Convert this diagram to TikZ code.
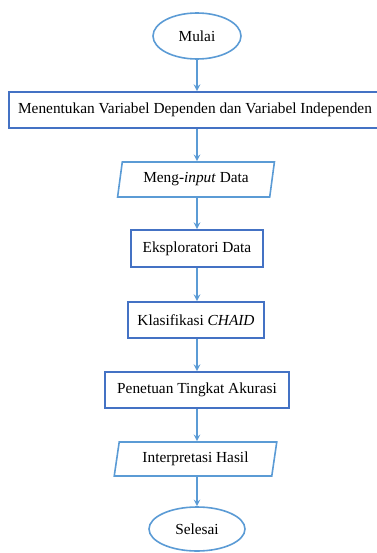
\documentclass[tikz,border=0pt]{standalone}
\usepackage{fontspec}
\setmainfont{Liberation Serif}
\usetikzlibrary{shapes.geometric}
\definecolor{garisbiru}{HTML}{5B9BD5}
\definecolor{kotakbiru}{HTML}{4472C4}
\tikzset{
    mulaiselesai/.style={draw=garisbiru, line width=1.2pt, ellipse, inner sep=0pt},
    proses/.style={draw=kotakbiru, line width=1.4pt, rectangle, inner sep=0pt},
    masukan/.style={draw=garisbiru, line width=1.2pt, trapezium, trapezium left angle=76,
        trapezium right angle=104, trapezium stretches=true, inner sep=0pt},
    panah/.style={->, draw=garisbiru, line width=1.2pt}
}
\begin{document}
\begin{tikzpicture}[>=stealth, x=0.75pt, y=-0.75pt, font=\fontsize{11.5}{13}\selectfont]
    \useasboundingbox (0,0) rectangle (377,553);
    \clip (0,0) rectangle (377,553);

    % Draw the start and end ellipses
    \node[mulaiselesai, minimum width=66pt, minimum height=34.5pt] (mulai) at (197,36) {Mulai};
    \node[mulaiselesai, minimum width=72pt, minimum height=33pt] (selesai) at (197,529) {Selesai};

    % Draw the process boxes
    \node[proses, minimum width=279pt, minimum height=27pt] (variabel) at (195,110) {Menentukan Variabel Dependen dan Variabel Independen};
    \node[masukan, minimum width=118.5pt, minimum height=26.25pt] (input) at (196,179.5) {Meng-\textit{input} Data};
    \node[proses, minimum width=99pt, minimum height=27.75pt] (eksplorasi) at (197,248.5) {Eksploratori Data};
    \node[proses, minimum width=102pt, minimum height=27pt] (chaid) at (196,320) {Klasifikasi \textit{CHAID}};
    \node[proses, minimum width=138pt, minimum height=27pt] (akurasi) at (197,390) {Penetuan Tingkat Akurasi};
    \node[masukan, minimum width=122pt, minimum height=25.5pt] (hasil) at (195.5,459) {Interpretasi Hasil};

    % Draw the arrows between the steps
    \draw[panah] (mulai.south) -- (mulai.south |- variabel.north);
    \draw[panah] (mulai.south |- variabel.south) -- (mulai.south |- input.north);
    \draw[panah] (mulai.south |- input.south) -- (mulai.south |- eksplorasi.north);
    \draw[panah] (mulai.south |- eksplorasi.south) -- (mulai.south |- chaid.north);
    \draw[panah] (mulai.south |- chaid.south) -- (mulai.south |- akurasi.north);
    \draw[panah] (mulai.south |- akurasi.south) -- (mulai.south |- hasil.north);
    \draw[panah] (mulai.south |- hasil.south) -- (selesai.north);
\end{tikzpicture}
\end{document}
